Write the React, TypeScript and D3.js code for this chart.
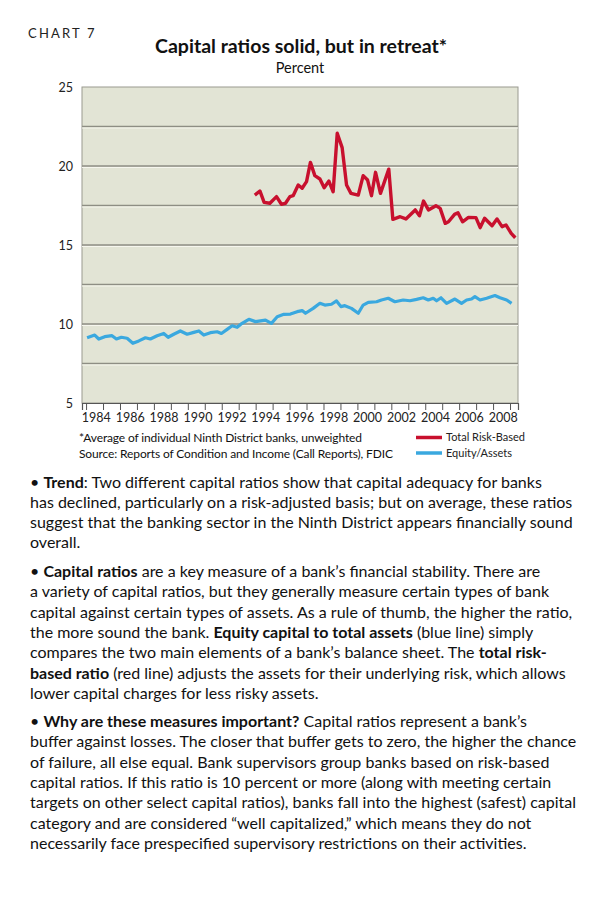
import {useEffect, useRef} from "react";
import * as d3 from "d3";

const SvgWidth = 600;
const SvgHeight = 906;

// equity / assets (decimal year, percent)
const equityYears = [1984.06, 1984.51, 1984.75, 1985.10, 1985.53, 1985.79, 1986.08, 1986.42, 1986.76, 1987.11,
    1987.50, 1987.79, 1988.19, 1988.58, 1988.84, 1989.17, 1989.56, 1989.96, 1990.35, 1990.65,
    1990.94, 1991.33, 1991.73, 1991.98, 1992.32, 1992.61, 1992.91, 1993.20, 1993.60, 1993.99,
    1994.58, 1994.93, 1995.27, 1995.66, 1996.05, 1996.45, 1996.74, 1996.94, 1997.39, 1997.79,
    1998.08, 1998.47, 1998.77, 1999.03, 1999.26, 1999.65, 2000.05, 2000.34, 2000.64, 2001.13,
    2001.42, 2001.82, 2002.21, 2002.70, 2003.10, 2003.49, 2003.88, 2004.18, 2004.47, 2004.67,
    2004.93, 2005.26, 2005.75, 2006.14, 2006.44, 2006.73, 2006.93, 2007.23, 2007.62, 2008.11,
    2008.41, 2008.80, 2009.09];
const equityValues = [9.13, 9.30, 9.05, 9.20, 9.26, 9.05, 9.16, 9.10, 8.78, 8.93,
    9.13, 9.05, 9.26, 9.40, 9.16, 9.35, 9.56, 9.35, 9.47, 9.56,
    9.30, 9.45, 9.51, 9.40, 9.66, 9.89, 9.79, 10.04, 10.30, 10.15,
    10.25, 10.04, 10.46, 10.61, 10.63, 10.78, 10.85, 10.68, 10.99, 11.31,
    11.20, 11.25, 11.46, 11.10, 11.16, 10.99, 10.68, 11.20, 11.37, 11.41,
    11.52, 11.63, 11.41, 11.52, 11.47, 11.56, 11.66, 11.52, 11.63, 11.47,
    11.66, 11.31, 11.58, 11.31, 11.52, 11.58, 11.73, 11.52, 11.63, 11.80,
    11.66, 11.52, 11.31];

// total risk-based
const riskYears = [1993.95, 1994.25, 1994.50, 1994.84, 1995.23, 1995.52, 1995.76, 1996.02, 1996.21, 1996.51,
    1996.74, 1997.00, 1997.23, 1997.49, 1997.79, 1998.04, 1998.32, 1998.57, 1998.81, 1999.10,
    1999.36, 1999.62, 2000.05, 2000.34, 2000.60, 2000.83, 2001.07, 2001.36, 2001.85, 2002.09,
    2002.52, 2002.86, 2003.41, 2003.66, 2003.90, 2004.19, 2004.63, 2004.88, 2005.18, 2005.37,
    2005.73, 2005.93, 2006.20, 2006.55, 2006.99, 2007.24, 2007.50, 2007.94, 2008.23, 2008.53,
    2008.76, 2009.07, 2009.31];
const riskValues = [18.16, 18.42, 17.70, 17.64, 18.06, 17.58, 17.64, 18.06, 18.12, 18.80,
    18.59, 19.01, 20.23, 19.39, 19.18, 18.63, 19.05, 18.37, 22.07, 21.16,
    18.80, 18.27, 18.16, 19.39, 19.11, 18.12, 19.60, 18.27, 19.80, 16.62,
    16.79, 16.65, 17.22, 16.85, 17.78, 17.22, 17.49, 17.32, 16.37, 16.47,
    16.94, 17.04, 16.47, 16.75, 16.73, 16.10, 16.69, 16.22, 16.65, 16.16,
    16.27, 15.74, 15.46];

const yTicks = [5, 10, 15, 20, 25];
const gridValues = [7.5, 10, 12.5, 15, 17.5, 20, 22.5];
const yearTicks = d3.range(1984, 2010);
const yearLabels = ["1984", "1986", "1988", "1990", "1992", "1994", "1996", "1998", "2000", "2002", "2004", "2006", "2008"];

const riskColor = "#c8102e";
const equityColor = "#3aa8df";
const plotFill = "#e2e4d5";
const gridColor = "#8e8e84";
const font = "Lato, 'Open Sans', sans-serif";

const plotLeft = 82;
const plotRight = 518;
const plotTop = 87;
const plotBottom = 403;

function App(){
    const xAxisRef = useRef(null);

    const xScale = d3.scaleLinear()
        .domain([1983.76, 2009.47])
        .range([plotLeft, plotRight]);

    const yScale = d3.scaleLinear()
        .domain([5, 25])
        .range([plotBottom, plotTop]);

    const line = d3.line<[number, number]>()
        .x(d => xScale(d[0]))
        .y(d => yScale(d[1]));

    const equityPath = line(equityYears.map((y, i) => [y, equityValues[i]]));
    const riskPath = line(riskYears.map((y, i) => [y, riskValues[i]]));

    useEffect(() => {
        let xAxisElm = d3.select(xAxisRef.current);
        if(xAxisElm){
            xAxisElm.call(d3.axisBottom(xScale).tickValues(yearTicks).tickSize(7).tickFormat(() => ""));
            xAxisElm.select(".domain").attr("stroke", "#555").attr("stroke-width", 1.2);
            xAxisElm.selectAll(".tick line").attr("stroke", "#555").attr("stroke-width", 1);
        }
    }, [xScale])

    const lh = 20.3;
    const p1 = 487.5;
    const p2 = 577;
    const p3 = 727;
    const bx = 30;
    const bs = 16;

    const Body = ({y, children}: any) => (
        <text x={bx} y={y} fontFamily={font} fontSize={bs} fill="#111">{children}</text>
    );

    return (
        <div style={{position: "absolute", left: 0, top: 0}}>
            <svg width={SvgWidth} height={SvgHeight} style={{display: "block", background: "#fff"}}>
                <text x={28} y={38} fontFamily={font} fontSize={13} letterSpacing={2.2} fill="#222">CHART 7</text>
                <text x={155} y={53} textLength={292} lengthAdjust="spacingAndGlyphs" fontFamily={font} fontSize={18.5} fontWeight="bold" fill="#111">
                    Capital ratios solid, but in retreat*
                </text>
                <text x={300} y={73} textAnchor="middle" fontFamily={font} fontSize={14.5} fill="#111">Percent</text>

                <rect x={plotLeft} y={plotTop} width={plotRight - plotLeft} height={plotBottom - plotTop}
                      fill={plotFill} stroke="#9a9a90" strokeWidth={1}/>

                {gridValues.map(v => (
                    <g key={v}>
                        <line x1={plotLeft} x2={plotRight} y1={yScale(v)} y2={yScale(v)} stroke={gridColor} strokeWidth={1.5}/>
                        <line x1={plotLeft} x2={plotRight} y1={yScale(v) + 1.5} y2={yScale(v) + 1.5} stroke="#f6f6ee" strokeWidth={1}/>
                    </g>
                ))}

                {yTicks.map(v => (
                    <text key={v} x={73} y={yScale(v) + 4.5} textAnchor="end" fontFamily={font} fontSize={12.5} fill="#222">{v}</text>
                ))}

                <path d={equityPath} fill="none" stroke={equityColor} strokeWidth={3.2} strokeLinejoin="round"/>
                <path d={riskPath} fill="none" stroke={riskColor} strokeWidth={3.4} strokeLinejoin="round"/>

                <g ref={xAxisRef} transform={`translate(0, ${plotBottom})`}></g>

                {yearLabels.map(l => (
                    <text key={l} x={xScale(+l + 0.6)} y={422} textAnchor="middle" fontFamily={font} fontSize={12.5} fill="#222">{l}</text>
                ))}

                <text x={79} y={442} textLength={283} lengthAdjust="spacing" fontFamily={font} fontSize={12} fill="#111">*Average of individual Ninth District banks, unweighted</text>
                <text x={79} y={458} textLength={314} lengthAdjust="spacing" fontFamily={font} fontSize={12} fill="#111">Source: Reports of Condition and Income (Call Reports), FDIC</text>

                <line x1={416} x2={442} y1={437.5} y2={437.5} stroke={riskColor} strokeWidth={3.5}/>
                <text x={446} y={441} fontFamily={font} fontSize={11} fill="#222">Total Risk-Based</text>
                <line x1={416} x2={442} y1={453} y2={453} stroke={equityColor} strokeWidth={3.5}/>
                <text x={446} y={457} fontFamily={font} fontSize={11} fill="#222">Equity/Assets</text>

                <Body y={p1}>• <tspan fontWeight="bold">Trend</tspan>: Two different capital ratios show that capital adequacy for banks</Body>
                <Body y={p1 + lh}>has declined, particularly on a risk-adjusted basis; but on average, these ratios</Body>
                <Body y={p1 + 2 * lh}>suggest that the banking sector in the Ninth District appears financially sound</Body>
                <Body y={p1 + 3 * lh}>overall.</Body>

                <Body y={p2}>• <tspan fontWeight="bold">Capital ratios</tspan> are a key measure of a bank’s financial stability. There are</Body>
                <Body y={p2 + lh}>a variety of capital ratios, but they generally measure certain types of bank</Body>
                <Body y={p2 + 2 * lh}>capital against certain types of assets. As a rule of thumb, the higher the ratio,</Body>
                <Body y={p2 + 3 * lh}>the more sound the bank. <tspan fontWeight="bold">Equity capital to total assets</tspan> (blue line) simply</Body>
                <Body y={p2 + 4 * lh}>compares the two main elements of a bank’s balance sheet. The <tspan fontWeight="bold">total risk-</tspan></Body>
                <Body y={p2 + 5 * lh}><tspan fontWeight="bold">based ratio</tspan> (red line) adjusts the assets for their underlying risk, which allows</Body>
                <Body y={p2 + 6 * lh}>lower capital charges for less risky assets.</Body>

                <Body y={p3}>• <tspan fontWeight="bold">Why are these measures important?</tspan> Capital ratios represent a bank’s</Body>
                <Body y={p3 + lh}>buffer against losses. The closer that buffer gets to zero, the higher the chance</Body>
                <Body y={p3 + 2 * lh}>of failure, all else equal. Bank supervisors group banks based on risk-based</Body>
                <Body y={p3 + 3 * lh}>capital ratios. If this ratio is 10 percent or more (along with meeting certain</Body>
                <Body y={p3 + 4 * lh}>targets on other select capital ratios), banks fall into the highest (safest) capital</Body>
                <Body y={p3 + 5 * lh}>category and are considered “well capitalized,” which means they do not</Body>
                <Body y={p3 + 6 * lh}>necessarily face prespecified supervisory restrictions on their activities.</Body>
            </svg>
        </div>
    )
}

export default App;
